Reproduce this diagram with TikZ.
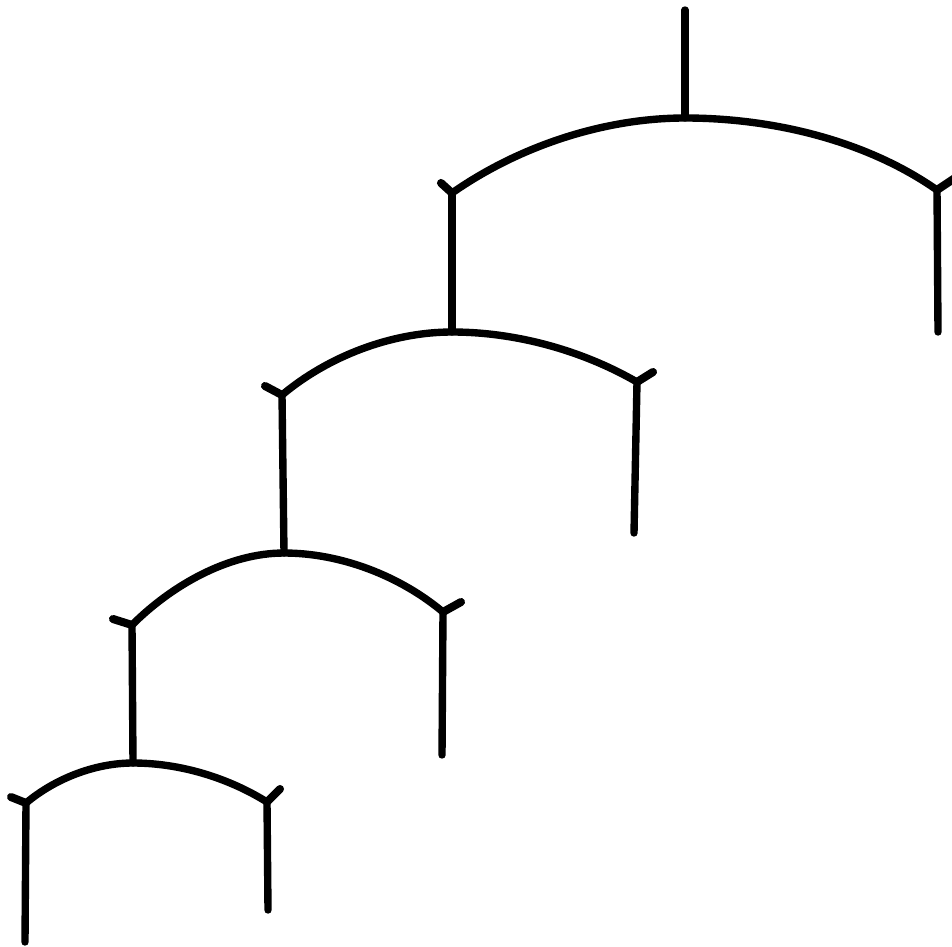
\documentclass[tikz,border=0pt]{standalone}
\usepackage{tikz}
\usetikzlibrary{calc}
\tikzset{
  limb/.style={line width=2.1pt, line cap=round, draw=black},
  branch/.style={line width=2.1pt, line cap=round, draw=black, looseness=0.85},
  spur/.style={line width=2.3pt, line cap=round, draw=black}
}
\begin{document}
\begin{tikzpicture}[x=0.1mm, y=-0.1mm]
  \useasboundingbox (0,0) rectangle (952,946);
  % junctions, ends and spurs
  \coordinate (top) at (685,10);
  \coordinate (knot1) at (685,118);
  \coordinate (left1) at (452,193);  \coordinate (lspur1) at (441,183);
  \coordinate (right1) at (937,190); \coordinate (rspur1) at (958,176);
  \coordinate (rfoot1) at (938,332);
  \coordinate (knot2) at (452,332);
  \coordinate (left2) at (282,395);  \coordinate (lspur2) at (265,386);
  \coordinate (right2) at (637,382); \coordinate (rspur2) at (653,372);
  \coordinate (rfoot2) at (634,533);
  \coordinate (knot3) at (284,553);
  \coordinate (left3) at (132,625);  \coordinate (lspur3) at (113,619);
  \coordinate (right3) at (443,612); \coordinate (rspur3) at (461,602);
  \coordinate (rfoot3) at (442,755);
  \coordinate (knot4) at (133,763);
  \coordinate (left4) at (26,803);   \coordinate (lspur4) at (11,797);
  \coordinate (right4) at (267,802); \coordinate (rspur4) at (280,789);
  \coordinate (lfoot4) at (25,942);
  \coordinate (rfoot4) at (268,910);
  % stems
  \draw[limb] (top) -- (knot1);
  \draw[limb] (left1) -- (knot2);
  \draw[limb] (right1) -- (rfoot1);
  \draw[limb] (left2) -- (knot3);
  \draw[limb] (right2) -- (rfoot2);
  \draw[limb] (left3) -- (knot4);
  \draw[limb] (right3) -- (rfoot3);
  \draw[limb] (left4) -- (lfoot4);
  \draw[limb] (right4) -- (rfoot4);
  % arcs
  \draw[branch] (left1) to[out=35, in=180] (knot1) to[out=0, in=145] (right1);
  \draw[branch] (left2) to[out=40, in=180] (knot2) to[out=0, in=150] (right2);
  \draw[branch] (left3) to[out=45, in=180] (knot3) to[out=0, in=140] (right3);
  \draw[branch] (left4) to[out=40, in=180] (knot4) to[out=0, in=148] (right4);
  % spurs
  \draw[spur] (left1) -- (lspur1);  \draw[spur] (right1) -- (rspur1);
  \draw[spur] (left2) -- (lspur2);  \draw[spur] (right2) -- (rspur2);
  \draw[spur] (left3) -- (lspur3);  \draw[spur] (right3) -- (rspur3);
  \draw[spur] (left4) -- (lspur4);  \draw[spur] (right4) -- (rspur4);
\end{tikzpicture}
\end{document}
